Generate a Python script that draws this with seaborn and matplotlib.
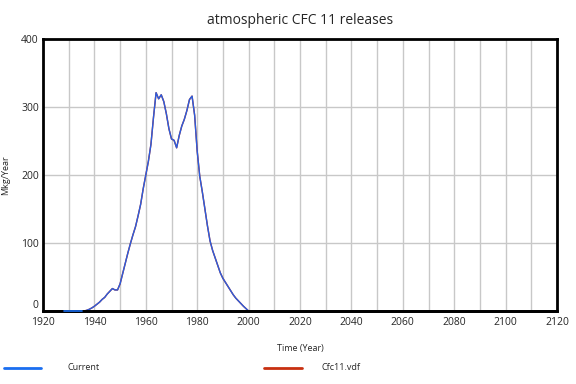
import matplotlib
matplotlib.use('Agg')
import matplotlib.pyplot as plt
import matplotlib.transforms as mtransforms
import seaborn as sns
import pandas as pd
from matplotlib.lines import Line2D

anos = list(range(1928, 2001))
liberacoes = [0, 0, 0, 0, 0, 0, 0, 0, 0,
              1, 2.5, 4.5, 7, 10, 13, 17, 20, 25, 29, 33, 31, 31,
              40, 55, 70, 85, 99, 112, 124, 140, 157, 180,
              200, 220, 245, 285, 321, 312, 318, 308, 290, 268,
              253, 251, 240, 258, 272, 282, 295, 311, 316, 288,
              235, 198, 175, 150, 125, 103, 89, 78, 67, 56,
              48, 42, 36, 30, 24, 19, 15, 11, 7, 3.5,
              0]
inicio_vdf = 1935

df = pd.DataFrame({'Ano': anos, 'Mkg/Year': liberacoes})
df_vdf = df[df['Ano'] >= inicio_vdf]

sns.set_style('white')
plt.rcParams['font.family'] = ['Open Sans', 'DejaVu Sans']

fig = plt.figure(figsize=(5.76, 3.84), dpi=100)
ax = fig.add_axes([43 / 576, 73 / 384, 514 / 576, 272 / 384])

sns.lineplot(data=df_vdf, x='Ano', y='Mkg/Year', color='#c83010', linewidth=1.0, ax=ax)
sns.lineplot(data=df, x='Ano', y='Mkg/Year', color='#2a5ee0', linewidth=1.0, ax=ax)

ax.set_xlim(1920, 2120)
ax.set_ylim(0, 400)
ax.set_xticks(range(1920, 2121, 20))
ax.set_xticks(range(1930, 2121, 20), minor=True)
ax.set_yticks(range(0, 401, 100))
ax.grid(True, which='both', color='#c8c8c8', linewidth=1)
ax.tick_params(axis='both', which='both', length=0, labelsize=7.5)
ax.tick_params(axis='x', pad=4)
ax.tick_params(axis='y', pad=3)
for s in ax.spines.values():
    s.set_visible(True)
    s.set_linewidth(2)
    s.set_color('black')

# borda inferior reforçada e trecho zerado do Current por cima dela
ax.axhline(0, color='black', linewidth=2, zorder=2.6, clip_on=False)
zerados = df[df['Ano'] < inicio_vdf + 1]
ax.plot(zerados['Ano'], zerados['Mkg/Year'], color='#1a6ef0', linewidth=1.2,
        clip_on=False, zorder=4)

ax.set_title('atmospheric CFC 11 releases', fontsize=10, pad=11)
ax.set_xlabel('Time (Year)', fontsize=6.5, labelpad=12)
ax.set_ylabel('Mkg/Year', fontsize=6.5, labelpad=8)

# rótulo "0" levemente acima, para não colidir com 1920
desloc = mtransforms.ScaledTranslation(0, 5 / 72, fig.dpi_scale_trans)
rotulo_zero = ax.yaxis.get_major_ticks()[0].label1
rotulo_zero.set_transform(rotulo_zero.get_transform() + desloc)

fig.add_artist(Line2D([4 / 576, 41 / 576], [1 - 368 / 384] * 2, color='#1a6ef0', linewidth=2))
fig.text(67 / 576, 1 - 368 / 384, 'Current', fontsize=6.5, va='center')
fig.add_artist(Line2D([264 / 576, 302 / 576], [1 - 368 / 384] * 2, color='#c83010', linewidth=2))
fig.text(321 / 576, 1 - 368 / 384, 'Cfc11.vdf', fontsize=6.5, va='center')

plt.savefig('out.png', dpi=100)
